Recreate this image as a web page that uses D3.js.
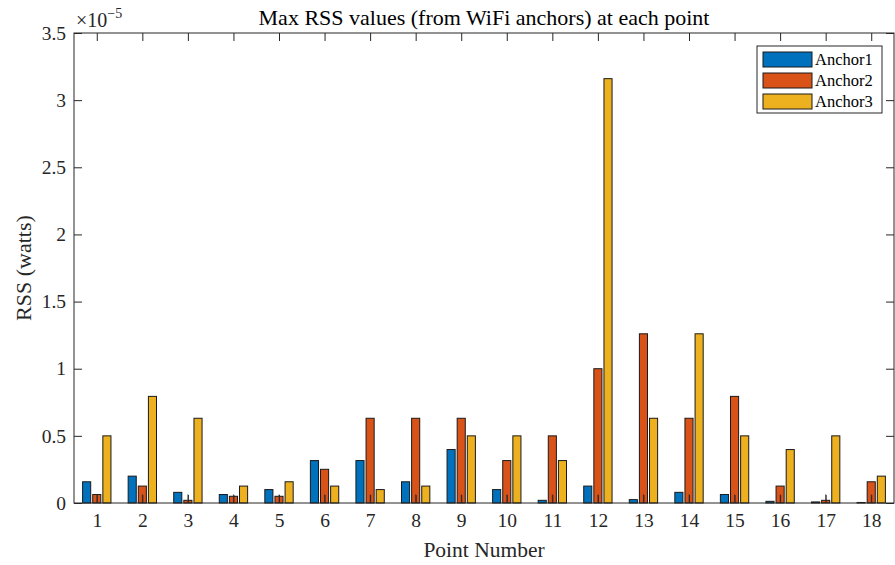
<!DOCTYPE html>
<html>
<head>
<meta charset="utf-8">
<script src="https://cdn.jsdelivr.net/npm/d3@7"></script>
<style>
  body { margin: 0; background: #fff; }
  svg { display: block; font-family: "Liberation Serif", "Times New Roman", serif; }
  .axis path, .axis line { stroke: #262626; stroke-width: 1; }
  .axis text { fill: #262626; font-size: 19.5px; font-family: "Liberation Serif", serif; }
</style>
</head>
<body>
<script>
// values are in units of 1e-5 watts
var points = [1, 2, 3, 4, 5, 6, 7, 8, 9, 10, 11, 12, 13, 14, 15, 16, 17, 18];
var anchor1 = [0.158, 0.2, 0.0794, 0.0631, 0.1, 0.316, 0.316, 0.158, 0.398, 0.1, 0.02, 0.126, 0.0251, 0.0794, 0.0631, 0.0126, 0.0079, 0.004];
var anchor2 = [0.0631, 0.126, 0.02, 0.05, 0.05, 0.251, 0.631, 0.631, 0.631, 0.316, 0.5, 1.0, 1.26, 0.631, 0.794, 0.126, 0.02, 0.158];
var anchor3 = [0.5, 0.794, 0.631, 0.126, 0.158, 0.126, 0.1, 0.126, 0.5, 0.5, 0.316, 3.16, 0.631, 1.26, 0.5, 0.398, 0.5, 0.2];
// small dark marks drawn at the centre of each group
var centerMark = [0.065, 0.065, 0.065, 0.065, 0.065, 0.065, 0.065, 0.065, 0.065, 0.065, 0.065, 0.065, 0.065, 0.065, 0.065, 0.065, 0.065, 0.065];
var seriesNames = ["Anchor1", "Anchor2", "Anchor3"];
var seriesColors = ["#0072BD", "#D95319", "#EDB120"];
var yTicks = [0, 0.5, 1, 1.5, 2, 2.5, 3, 3.5];

var width = 895, height = 565;
var padL = 74, padR = 894, padT = 33, padB = 503;

var svg = d3.select('body').append('svg')
    .attr('width', width).attr('height', height);

var x = d3.scaleLinear().domain([0.5, 18.5]).range([padL, padR]);
var y = d3.scaleLinear().domain([0, 3.5]).range([padB, padT]);

var series = [anchor1, anchor2, anchor3];
var groupW = Math.min(0.8, 3 / 4.5); // matlab grouped bar width
var slot = groupW / 3;
var barW = x(1 + slot * 0.8) - x(1);

var barsGroup = svg.append('g');
series.forEach(function(vals, s) {
  barsGroup.selectAll('.bar' + s)
      .data(vals)
      .enter().append('rect')
      .attr('class', 'bar' + s)
      .attr('x', function(d, i) { return x(points[i] + (s - 1) * slot) - barW / 2; })
      .attr('y', function(d) { return y(d); })
      .attr('width', barW)
      .attr('height', function(d) { return y(0) - y(d); })
      .attr('fill', seriesColors[s])
      .attr('stroke', '#1a1a1a')
      .attr('stroke-width', 1);
});

barsGroup.selectAll('.mark')
    .data(centerMark)
    .enter().append('line')
    .attr('class', 'mark')
    .attr('x1', function(d, i) { return x(points[i]); })
    .attr('x2', function(d, i) { return x(points[i]); })
    .attr('y1', y(0))
    .attr('y2', function(d) { return y(d); })
    .attr('stroke', '#333')
    .attr('stroke-opacity', 0.7)
    .attr('stroke-width', 1);

// axes, ticks pointing inward (box on)
svg.append('g').attr('class', 'axis')
    .attr('transform', 'translate(0,' + padB + ')')
    .call(d3.axisBottom(x).tickValues(points).tickSize(-8).tickPadding(10).tickFormat(d3.format('d')));
svg.append('g').attr('class', 'axis')
    .attr('transform', 'translate(0,' + padT + ')')
    .call(d3.axisTop(x).tickValues(points).tickSize(-8).tickFormat(''));
svg.append('g').attr('class', 'axis')
    .attr('transform', 'translate(' + padL + ',0)')
    .call(d3.axisLeft(y).tickValues(yTicks).tickSize(-8).tickPadding(8).tickFormat(function(d) { return d3.format('')(d); }));
svg.append('g').attr('class', 'axis')
    .attr('transform', 'translate(' + padR + ',0)')
    .call(d3.axisRight(y).tickValues(yTicks).tickSize(-8).tickFormat(''));

svg.selectAll('.axis path.domain').remove();
svg.append('rect')
    .attr('x', padL).attr('y', padT)
    .attr('width', padR - padL).attr('height', padB - padT)
    .attr('fill', 'none').attr('stroke', '#262626').attr('stroke-width', 1);

// exponent label
var expo = svg.append('text')
    .attr('x', 76).attr('y', 27)
    .attr('fill', '#262626').style('font-size', '20px');
expo.append('tspan').text('\u00d710');
expo.append('tspan').attr('dy', -9).style('font-size', '14px').text('\u22125');

// title and labels
svg.append('text')
    .attr('x', (padL + padR) / 2).attr('y', 25)
    .attr('text-anchor', 'middle')
    .attr('fill', '#000').style('font-size', '22px')
    .text('Max RSS values (from WiFi anchors) at each point');

svg.append('text')
    .attr('x', (padL + padR) / 2).attr('y', 557)
    .attr('text-anchor', 'middle')
    .attr('fill', '#262626').style('font-size', '21.5px')
    .text('Point Number');

svg.append('text')
    .attr('transform', 'translate(31,' + ((padT + padB) / 2) + ') rotate(-90)')
    .attr('text-anchor', 'middle')
    .attr('fill', '#262626').style('font-size', '22px')
    .text('RSS (watts)');

// legend
var lg = svg.append('g').attr('transform', 'translate(757,46)');
lg.append('rect')
    .attr('width', 125).attr('height', 67)
    .attr('fill', '#fff').attr('stroke', '#262626').attr('stroke-width', 1);
seriesNames.forEach(function(name, s) {
  lg.append('rect')
      .attr('x', 6).attr('y', 6 + s * 21)
      .attr('width', 49).attr('height', 15)
      .attr('fill', seriesColors[s])
      .attr('stroke', '#1a1a1a').attr('stroke-width', 1);
  lg.append('text')
      .attr('x', 58).attr('y', 19 + s * 21)
      .attr('fill', '#000').style('font-size', '16.5px')
      .text(name);
});
</script>
